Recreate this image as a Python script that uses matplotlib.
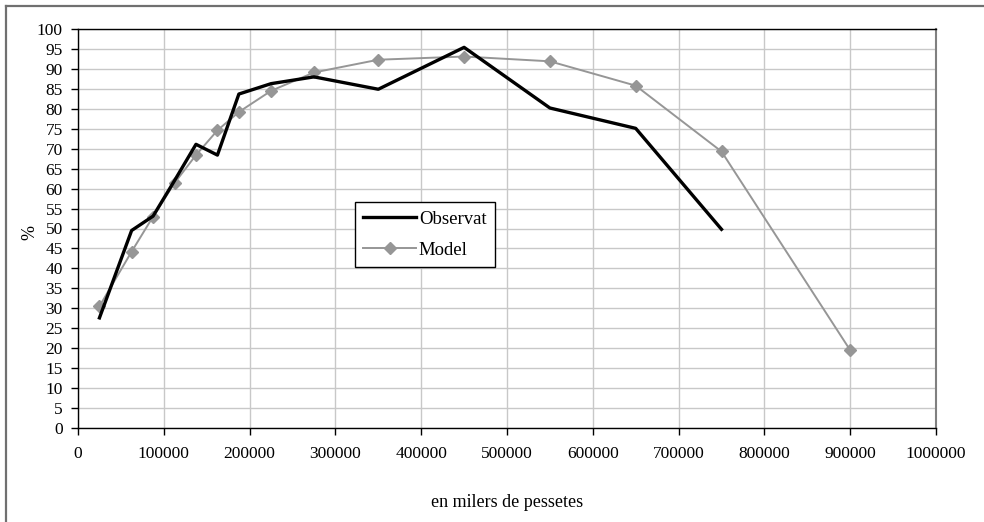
import numpy as np
import matplotlib
matplotlib.use('Agg')
import matplotlib.pyplot as plt
from matplotlib.lines import Line2D

# Data
xObs = [25000, 62500, 87500, 112500, 137500, 162500, 187500, 225000, 275000,
        350000, 450000, 550000, 650000, 750000]
yObs = [27.6, 49.5, 53.1, 62.0, 71.1, 68.4, 83.7, 86.3, 88.0,
        84.9, 95.4, 80.2, 75.1, 49.8]

xMod = [25000, 62500, 87500, 112500, 137500, 162500, 187500, 225000, 275000,
        350000, 450000, 550000, 650000, 750000, 900000]
yMod = [30.5, 44.2, 53.0, 61.4, 68.4, 74.6, 79.2, 84.5, 89.1,
        92.3, 93.1, 91.9, 85.8, 69.3, 19.5]

xticks = np.arange(0, 1000001, 100000)
yticks = np.arange(0, 101, 5)

plt.rcParams['font.family'] = ['Liberation Serif', 'DejaVu Serif']

fig = plt.figure(figsize=(9.84, 5.22), dpi=100)
ax = fig.add_axes([78 / 984, 1 - 428 / 522, (936 - 78) / 984, (428 - 29) / 522])

ax.plot(xObs, yObs, '-', color='black', linewidth=2.4, label='Observat', zorder=4)
ax.plot(xMod, yMod, '-', color='#969696', linewidth=1.4, marker='D',
        markersize=6.5, markerfacecolor='#969696', markeredgecolor='#969696',
        label='Model', zorder=3)

ax.set_xlim(0, 1000000)
ax.set_ylim(0, 100)
ax.set_xticks(xticks)
ax.set_xticklabels([str(v) for v in xticks])
ax.set_yticks(yticks)
ax.tick_params(axis='both', direction='out', length=5, width=1, labelsize=12.5,
               colors='black')
ax.tick_params(axis='x', pad=8)
ax.tick_params(axis='y', pad=6)
ax.grid(True, color='#c8c8c8', linewidth=1.0)
ax.set_axisbelow(True)

for s in ['left', 'bottom', 'top']:
    ax.spines[s].set_color('black')
    ax.spines[s].set_linewidth(1.0)
ax.spines['right'].set_color('#808080')
ax.spines['right'].set_linewidth(1.5)

ax.set_xlabel('en milers de pessetes', fontsize=13, labelpad=23)
ax.set_ylabel('%', fontsize=13)
ax.yaxis.set_label_coords(-0.046, 0.49)

leg = ax.legend(loc='upper left', bbox_to_anchor=(355 / 984, 1 - 202 / 522),
                bbox_transform=fig.transFigure, fontsize=13.5, frameon=True,
                fancybox=False, borderpad=0.45, handlelength=2.8,
                labelspacing=0.75, handletextpad=0.15, borderaxespad=0)
leg.get_frame().set_edgecolor('black')
leg.get_frame().set_linewidth(1.0)
leg.get_frame().set_alpha(1)

# Outer chart border (left and top only visible)
fig.add_artist(Line2D([5.5 / 984, 5.5 / 984], [0, 1 - 5.5 / 522],
                      transform=fig.transFigure, color='#707070', linewidth=1.6))
fig.add_artist(Line2D([5.5 / 984, 1], [1 - 5.5 / 522, 1 - 5.5 / 522],
                      transform=fig.transFigure, color='#707070', linewidth=1.6))

plt.savefig('out.png', dpi=100)
plt.close()
